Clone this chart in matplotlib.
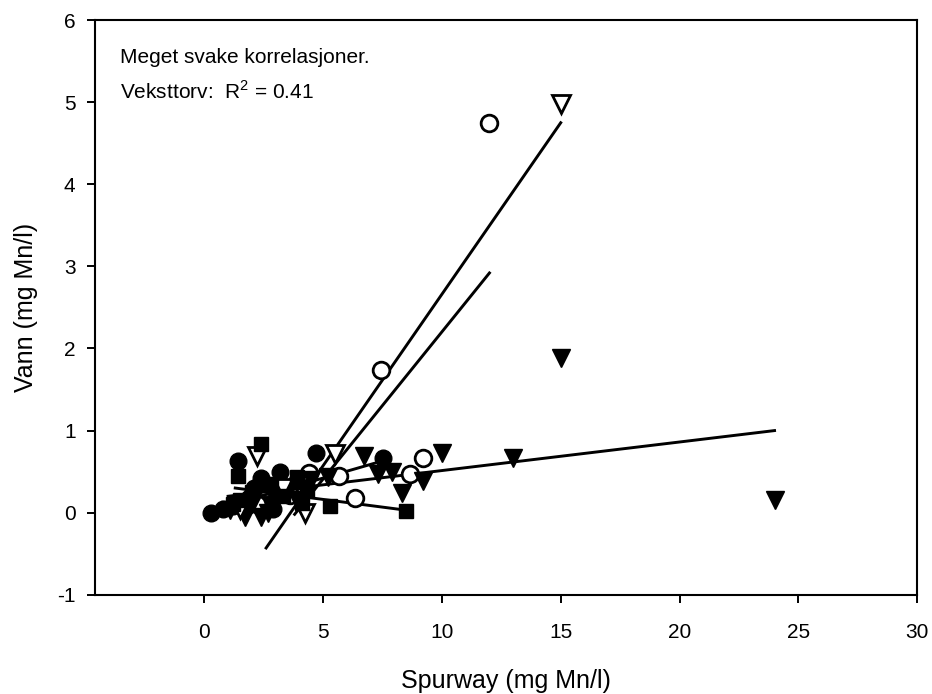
# Vann vs Spurway - Mn, spredningsplott med regresjonslinjer
import numpy as np
from matplotlib import rcParams, pyplot as plt

rcParams.update({
    "font.family": ['Liberation Sans', 'DejaVu Sans'],
    "font.size": 15,
    "mathtext.fontset": 'custom',
    "mathtext.rm": 'Liberation Sans',
    "axes.unicode_minus": False,
})

# fylte sirkler
fc_x = [0.3, 0.8, 1.4, 1.9, 2.1, 2.4, 2.6, 3.2, 3.5, 3.9, 4.7, 7.5, 1.2, 3.0, 1.6, 2.9]
fc_y = [0.0, 0.05, 0.63, 0.18, 0.3, 0.42, 0.1, 0.49, 0.3, 0.38, 0.73, 0.66, 0.08, 0.25, 0.12, 0.05]
fc_fit_x = [0.3, 7.5]
fc_fit_y = [0.03, 0.63]

# åpne sirkler
oc_x = [12.0, 7.45, 9.2, 8.65, 5.65, 6.35, 4.4, 3.6, 2.2]
oc_y = [4.75, 1.74, 0.66, 0.47, 0.45, 0.18, 0.48, 0.22, 0.1]
oc_fit_x = [3.8, 12.0]
oc_fit_y = [-0.02, 2.92]

# fylte trekanter
ft_x = [24, 15, 13, 10, 9.2, 8.3, 7.9, 7.3, 6.7, 5.2, 4.5, 2.7, 2.4, 1.7, 1.1, 3.0, 3.6, 2.0, 3.9, 2.2]
ft_y = [0.15, 1.88, 0.66, 0.73, 0.39, 0.24, 0.49, 0.47, 0.69, 0.43, 0.4, 0.0, -0.05, -0.05, 0.03, 0.2, 0.3, 0.1,
        0.15, 0.25]
ft_fit_x = [1.0, 24.0]
ft_fit_y = [0.2, 1.0]

# åpne trekanter (veksttorv)
ot_x = [15, 5.5, 2.2, 4.25, 3.3, 1.5]
ot_y = [4.98, 0.72, 0.69, 0.0, 0.3, 0.05]
ot_fit_x = [2.6, 15.0]
ot_fit_y = [-0.43, 4.75]

# fylte kvadrater
fs_x = [2.4, 1.4, 1.5, 3.9, 4.3, 5.3, 8.5, 2.0, 1.2, 3.3, 2.8, 4.1]
fs_y = [0.84, 0.45, 0.15, 0.43, 0.28, 0.08, 0.02, 0.25, 0.1, 0.2, 0.35, 0.12]
fs_fit_x = [1.3, 8.5]
fs_fit_y = [0.3, 0.03]

fig = plt.figure(figsize=(9.32, 6.94), dpi=100)
ax = fig.add_axes([0.102, 0.143, 0.882, 0.828])

lw = 2.1
ax.plot(ot_fit_x, ot_fit_y, color='k', linewidth=lw)
ax.plot(oc_fit_x, oc_fit_y, color='k', linewidth=lw)
ax.plot(ft_fit_x, ft_fit_y, color='k', linewidth=lw)
ax.plot(fc_fit_x, fc_fit_y, color='k', linewidth=lw)
ax.plot(fs_fit_x, fs_fit_y, color='k', linewidth=lw)

ax.plot(fc_x, fc_y, 'o', color='k', markersize=12, linestyle='none')
ax.plot(oc_x, oc_y, 'o', markerfacecolor='white', markeredgecolor='k', markeredgewidth=2,
        markersize=12, linestyle='none')
ax.plot(ft_x, ft_y, 'v', color='k', markersize=13, linestyle='none')
ax.plot(ot_x, ot_y, 'v', markerfacecolor='white', markeredgecolor='k', markeredgewidth=2,
        markersize=13, linestyle='none')
ax.plot(fs_x, fs_y, 's', color='k', markersize=10.5, linestyle='none')

ax.set_xlim(-4.6, 30)
ax.set_ylim(-1, 6)
ax.set_xticks(np.arange(0, 31, 5))
ax.set_yticks(np.arange(-1, 7, 1))
ax.tick_params(direction='out', length=6, width=1.4, labelsize=15)
ax.tick_params(axis='x', pad=14)
ax.tick_params(axis='y', pad=8)
for s in ax.spines.values():
    s.set_linewidth(1.5)

ax.set_xlabel('Spurway (mg Mn/l)', fontsize=18, labelpad=20)
ax.set_ylabel('Vann (mg Mn/l)', fontsize=18, labelpad=14)

ax.text(0.03, 0.952, 'Meget svake korrelasjoner.', transform=ax.transAxes,
        fontsize=15, va='top', ha='left')
ax.text(0.03, 0.896, 'Veksttorv:  R$^2$ = 0.41', transform=ax.transAxes,
        fontsize=15, va='top', ha='left')

fig.savefig('out.png', dpi=100)
